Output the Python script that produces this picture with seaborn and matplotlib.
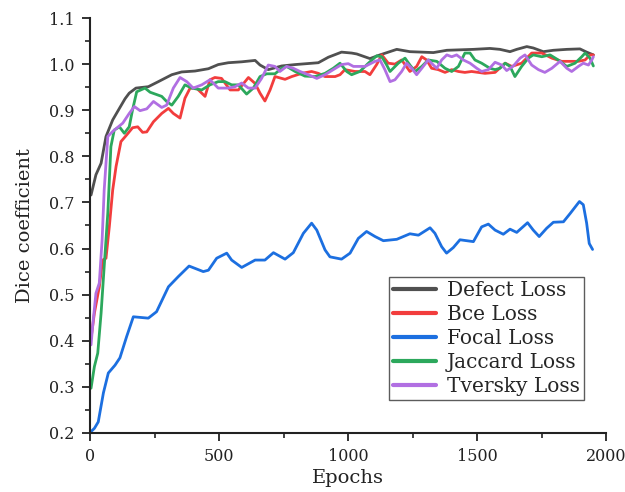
import numpy as np
import pandas as pd
import matplotlib
matplotlib.use("Agg")
import matplotlib.pyplot as plt
from matplotlib.ticker import MultipleLocator, FormatStrFormatter
import seaborn as sns

series_names = ["Defect Loss", "Bce Loss", "Focal Loss", "Jaccard Loss", "Tversky Loss"]
colors = ["#505050", "#f23d3d", "#1c6fe0", "#2ca85c", "#b16fe2"]

defect_x = [4, 23, 43, 62, 88, 114, 136, 152, 178, 226, 265, 317, 355, 407, 459, 497, 536, 588, 640, 659,
            691, 743, 795, 885, 924, 975, 1014, 1034, 1085, 1124, 1189, 1240, 1331, 1383, 1486, 1550, 1589,
            1628, 1654, 1693, 1718, 1757, 1796, 1848, 1899, 1925, 1951]
defect_y = [0.716, 0.760, 0.785, 0.843, 0.879, 0.904, 0.925, 0.937, 0.948, 0.951, 0.962, 0.977, 0.983, 0.985,
            0.990, 0.999, 1.003, 1.005, 1.008, 0.998, 0.988, 0.996, 0.999, 1.003, 1.015, 1.026, 1.024, 1.022,
            1.012, 1.020, 1.032, 1.027, 1.025, 1.030, 1.032, 1.034, 1.032, 1.027, 1.032, 1.038, 1.035, 1.027,
            1.030, 1.032, 1.033, 1.026, 1.020]

bce_x = [4, 17, 36, 49, 62, 75, 88, 101, 120, 140, 165, 185, 204, 220, 246, 278, 304, 323, 349, 368,
         388, 413, 446, 465, 484, 510, 543, 575, 601, 614, 640, 659, 678, 698, 717, 756, 782, 821, 859, 885,
         911, 950, 969, 988, 1027, 1066, 1085, 1111, 1131, 1156, 1182, 1208, 1240, 1266, 1286, 1305, 1324,
         1350, 1376, 1402, 1428, 1453, 1479, 1505, 1531, 1570, 1609, 1635, 1673, 1712, 1751, 1790, 1828,
         1867, 1893, 1919, 1938, 1951]
bce_y = [0.405, 0.460, 0.517, 0.575, 0.579, 0.648, 0.727, 0.778, 0.832, 0.845, 0.862, 0.864, 0.852, 0.853,
         0.875, 0.893, 0.904, 0.893, 0.883, 0.926, 0.948, 0.948, 0.930, 0.966, 0.971, 0.969, 0.944, 0.944,
         0.962, 0.971, 0.958, 0.937, 0.920, 0.944, 0.973, 0.967, 0.973, 0.980, 0.984, 0.980, 0.973, 0.973,
         0.977, 0.988, 0.984, 0.984, 0.977, 0.999, 1.020, 1.002, 1.000, 1.009, 0.984, 0.995, 1.016, 1.009,
         0.991, 0.988, 0.982, 0.988, 0.984, 0.982, 0.984, 0.982, 0.980, 0.982, 1.002, 0.995, 1.002, 1.024,
         1.024, 1.013, 1.006, 1.006, 1.006, 1.009, 1.020, 1.020]

focal_x = [4, 17, 32, 52, 71, 97, 116, 142, 168, 226, 258, 304, 342, 384, 439, 459, 491, 530, 549, 588,
           640, 678, 711, 756, 788, 827, 859, 879, 911, 930, 975, 1008, 1040, 1072, 1105, 1137, 1189, 1240,
           1273, 1318, 1337, 1363, 1382, 1408, 1434, 1486, 1518, 1544, 1570, 1602, 1628, 1654, 1696, 1718,
           1741, 1770, 1796, 1835, 1861, 1897, 1912, 1925, 1935, 1948]
focal_y = [0.203, 0.210, 0.224, 0.287, 0.330, 0.347, 0.363, 0.409, 0.452, 0.449, 0.463, 0.517, 0.539, 0.562,
           0.550, 0.553, 0.579, 0.590, 0.575, 0.559, 0.575, 0.575, 0.591, 0.577, 0.591, 0.633, 0.655, 0.640,
           0.597, 0.582, 0.577, 0.590, 0.622, 0.637, 0.626, 0.617, 0.620, 0.632, 0.629, 0.645, 0.633, 0.604,
           0.590, 0.602, 0.619, 0.615, 0.647, 0.653, 0.640, 0.631, 0.642, 0.635, 0.656, 0.640, 0.626, 0.644,
           0.657, 0.658, 0.676, 0.702, 0.695, 0.655, 0.611, 0.598]

jaccard_x = [4, 17, 30, 43, 55, 69, 81, 94, 114, 133, 152, 165, 181, 213, 233, 278, 297, 317, 342, 368,
             394, 433, 465, 497, 523, 549, 575, 607, 633, 659, 685, 717, 743, 762, 795, 833, 872, 911, 943,
             969, 995, 1014, 1046, 1079, 1111, 1131, 1150, 1163, 1195, 1221, 1240, 1260, 1286, 1311, 1344,
             1376, 1402, 1428, 1453, 1473, 1492, 1518, 1550, 1570, 1589, 1609, 1628, 1647, 1673, 1699, 1718,
             1751, 1783, 1815, 1848, 1880, 1906, 1919, 1938, 1951]
jaccard_y = [0.297, 0.344, 0.373, 0.460, 0.561, 0.677, 0.821, 0.857, 0.864, 0.850, 0.864, 0.901, 0.940, 0.948,
             0.939, 0.930, 0.919, 0.911, 0.930, 0.955, 0.948, 0.944, 0.955, 0.962, 0.962, 0.955, 0.955, 0.935,
             0.948, 0.973, 0.979, 0.979, 0.991, 0.995, 0.984, 0.974, 0.973, 0.980, 0.991, 1.002, 0.984, 0.977,
             0.984, 1.002, 1.018, 1.016, 0.998, 0.984, 1.002, 1.013, 0.998, 0.984, 0.995, 1.009, 1.006, 0.991,
             0.984, 0.995, 1.024, 1.024, 1.009, 1.002, 0.991, 0.988, 0.991, 1.002, 0.995, 0.973, 0.995, 1.013,
             1.020, 1.016, 1.020, 1.009, 0.995, 1.002, 1.016, 1.024, 1.013, 0.996]

tversky_x = [4, 10, 23, 36, 47, 55, 69, 88, 127, 152, 172, 194, 220, 246, 278, 297, 323, 349, 375, 400,
             433, 465, 497, 536, 562, 588, 614, 640, 665, 691, 717, 736, 762, 788, 814, 846, 879, 911, 943,
             975, 1001, 1021, 1066, 1105, 1124, 1143, 1163, 1182, 1208, 1227, 1247, 1266, 1286, 1311, 1331,
             1344, 1363, 1383, 1402, 1421, 1447, 1473, 1499, 1518, 1544, 1570, 1596, 1615, 1641, 1667, 1686,
             1712, 1738, 1763, 1790, 1822, 1848, 1867, 1893, 1912, 1932, 1945, 1951]
tversky_y = [0.391, 0.430, 0.503, 0.525, 0.619, 0.727, 0.843, 0.854, 0.872, 0.893, 0.908, 0.899, 0.903, 0.919,
             0.906, 0.911, 0.948, 0.971, 0.962, 0.948, 0.955, 0.966, 0.948, 0.948, 0.951, 0.959, 0.948, 0.948,
             0.969, 0.998, 0.995, 0.984, 0.995, 0.991, 0.984, 0.977, 0.969, 0.977, 0.988, 0.999, 1.001, 0.995,
             0.995, 1.006, 1.009, 0.988, 0.962, 0.966, 0.984, 1.002, 0.991, 0.977, 0.991, 1.009, 0.998, 0.991,
             1.009, 1.020, 1.016, 1.020, 1.009, 1.002, 0.991, 0.984, 0.988, 1.004, 0.998, 0.986, 0.996, 1.013,
             1.020, 0.998, 0.988, 0.982, 0.991, 1.006, 0.991, 0.984, 0.995, 1.002, 0.998, 1.009, 1.016]

x_ticks = [0, 500, 1000, 1500, 2000]
y_ticks = [0.2, 0.3, 0.4, 0.5, 0.6, 0.7, 0.8, 0.9, 1.0, 1.1]

xs = [defect_x, bce_x, focal_x, jaccard_x, tversky_x]
ys = [defect_y, bce_y, focal_y, jaccard_y, tversky_y]
df = pd.concat([pd.DataFrame({"Epochs": x, "Dice": y, "Loss": n})
                for n, x, y in zip(series_names, xs, ys)], ignore_index=True)

sns.set_style("ticks")
plt.rcParams["font.family"] = ["DejaVu Serif"]

fig = plt.figure(figsize=(6.25, 4.92), dpi=100)
ax = fig.add_axes([0.144, 0.12, 0.8256, 0.8434])

sns.lineplot(data=df, x="Epochs", y="Dice", hue="Loss", hue_order=series_names,
             palette=dict(zip(series_names, colors)), sort=False, estimator=None,
             linewidth=2.0, ax=ax)

ax.set_xlim(0, 2000)
ax.set_ylim(0.2, 1.1)
ax.set_xticks(x_ticks)
ax.set_yticks(y_ticks)
ax.xaxis.set_minor_locator(MultipleLocator(250))
ax.yaxis.set_minor_locator(MultipleLocator(0.05))
ax.yaxis.set_major_formatter(FormatStrFormatter("%.1f"))

for s in ["top", "right"]:
    ax.spines[s].set_visible(False)
for s in ["left", "bottom"]:
    ax.spines[s].set_linewidth(1.5)
    ax.spines[s].set_color("#222222")
ax.tick_params(which="major", direction="out", length=6, width=1.3, color="#222222",
               labelsize=11.5, labelcolor="#222222", pad=5)
ax.tick_params(which="minor", direction="out", length=3.5, width=1.2, color="#222222")

ax.set_xlabel("Epochs", fontsize=14, labelpad=3, color="#222222")
ax.set_ylabel("Dice coefficient", fontsize=14, labelpad=11, color="#222222")

handles, labels = ax.get_legend_handles_labels()
leg = ax.legend(handles, labels, loc="lower right", bbox_to_anchor=(0.957, 0.0795),
                borderaxespad=0, frameon=True, fancybox=False, edgecolor="#333333",
                fontsize=14.5, handlelength=2.15, handletextpad=0.55, labelspacing=0.25,
                borderpad=0.2)
leg.get_frame().set_linewidth(1.0)
for line in leg.get_lines():
    line.set_linewidth(3.0)

fig.savefig("out.png", dpi=100)
